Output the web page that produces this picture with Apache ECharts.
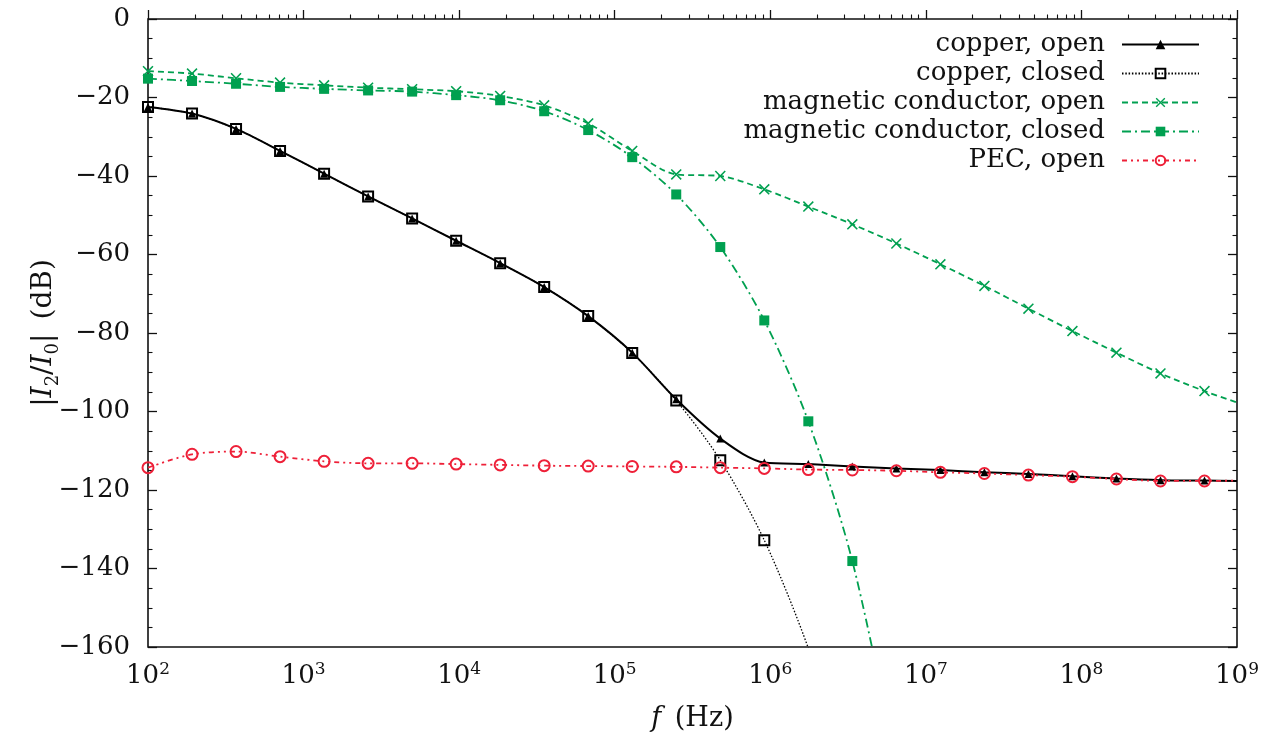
<!DOCTYPE html>
<html>
<head>
<meta charset="utf-8">
<title>|I2/I0| vs f</title>
<script src="https://cdn.jsdelivr.net/npm/echarts@6/dist/echarts.min.js"></script>
<style>
  html, body { margin: 0; padding: 0; background: #fff; }
  #chart { width: 1273px; height: 740px; }
</style>
</head>
<body>
<div id="chart"></div>
<script>
// frequencies (Hz) where the markers sit
var freq = [100, 191.9, 368.1, 706.1, 1355, 2599, 4986, 9566, 18350, 35210,
  67550, 129600, 248600, 477000, 915100, 1756000, 3368000, 6462000,
  12400000, 23780000, 45630000, 87540000, 167900000, 322200000, 618100000];
var fEnd = 1e9;

var copperOpen = [-22.4, -24.1, -28.0, -33.6, -39.4, -45.2, -50.8, -56.5, -62.2, -68.3,
  -75.7, -85.0, -96.9, -106.9, -113.0, -113.4, -114.0, -114.5, -114.9, -115.5,
  -115.9, -116.5, -117.1, -117.5, -117.6];
var copperOpenEnd = -117.7;

var copperClosed = [-22.4, -24.1, -28.0, -33.6, -39.4, -45.2, -50.8, -56.5, -62.2, -68.3,
  -75.7, -85.1, -97.2, -112.4, -132.8, -160.3, -195];

var magOpen = [-13.3, -13.9, -15.1, -16.2, -16.9, -17.5, -17.9, -18.4, -19.6, -22.0,
  -26.6, -33.6, -39.6, -40.0, -43.4, -47.8, -52.3, -57.2, -62.5, -68.0,
  -73.8, -79.5, -85.0, -90.3, -94.8];
var magOpenEnd = -97.7;

var magClosed = [-15.2, -15.8, -16.5, -17.3, -17.8, -18.2, -18.5, -19.4, -20.7, -23.5,
  -28.3, -35.2, -44.7, -58.1, -76.8, -102.5, -138.1, -190];

var pecOpen = [-114.3, -110.9, -110.2, -111.5, -112.7, -113.2, -113.2, -113.4, -113.6, -113.8,
  -113.9, -114.0, -114.1, -114.3, -114.5, -114.8, -114.9, -115.1, -115.5, -115.8,
  -116.2, -116.6, -117.2, -117.7, -117.7];
var pecOpenEnd = -117.6;

var names = ['copper, open', 'copper, closed', 'magnetic conductor, open',
  'magnetic conductor, closed', 'PEC, open'];

var decadeTicks = [1e2, 1e3, 1e4, 1e5, 1e6, 1e7, 1e8, 1e9];
var minorTicks = [];
decadeTicks.slice(0, 7).forEach(function(d) {
  for (var k = 2; k <= 9; k++) minorTicks.push(d * k);
});

var GREEN = '#00a050';
var RED = '#ee2038';
var NONE = 'rgba(255,255,255,0)';
var FONT = 'DejaVu Serif';
var crossIcon = 'path://M1,0L5,4L9,0L10,1L6,5L10,9L9,10L5,6L1,10L0,9L4,5L0,1Z';

function pts(vals, endVal) {
  var d = vals.map(function(v, i) { return [freq[i], v]; });
  if (endVal != null) d.push({ value: [fEnd, endVal], symbol: 'none' });
  return d;
}

function lineSeries(name, data, color, width, type, symbol, size, fill) {
  return {
    name: name,
    type: 'line',
    data: data,
    smooth: 0.3,
    symbol: symbol,
    symbolSize: size,
    showAllSymbol: true,
    clip: true,
    lineStyle: { color: color, width: width, type: type },
    itemStyle: { color: fill, borderColor: color, borderWidth: fill === color ? 0 : 2 }
  };
}

var chart = echarts.init(document.getElementById('chart'));

chart.setOption({
  animation: false,
  grid: {
    left: 148, right: 36, top: 19, bottom: 93,
    show: true, borderColor: '#111', borderWidth: 1.6, backgroundColor: 'transparent'
  },
  legend: {
    orient: 'vertical',
    right: 68,
    top: 25,
    align: 'right',
    itemWidth: 77,
    itemHeight: 12,
    itemGap: 0,
    data: names,
    textStyle: {
      fontFamily: FONT, fontSize: 26, color: '#111', lineHeight: 29,
      padding: [0, 12, 0, 0]
    }
  },
  xAxis: [{
    type: 'log',
    min: 1e2,
    max: 1e9,
    logBase: 10,
    name: '{i|f}{n|\u2002(Hz)}',
    nameLocation: 'middle',
    nameGap: 58,
    nameMoveOverlap: false,
    nameTextStyle: {
      rich: {
        i: { fontFamily: FONT, fontStyle: 'italic', fontSize: 27, color: '#111' },
        n: { fontFamily: FONT, fontSize: 27, color: '#111' }
      }
    },
    axisLine: { show: false },
    splitLine: { show: false },
    axisTick: { inside: true, length: 9, lineStyle: { color: '#111', width: 1.3 } },
    axisLabel: {
      margin: 14,
      formatter: function(v) {
        return '{b|10}{s|' + Math.round(Math.log10(v)) + '}';
      },
      rich: {
        b: { fontFamily: FONT, fontSize: 26, color: '#111', lineHeight: 30 },
        s: { fontFamily: FONT, fontSize: 17, color: '#111', verticalAlign: 'top', lineHeight: 18 }
      }
    }
  }, {
    type: 'log',
    min: 1e2,
    max: 1e9,
    logBase: 10,
    position: 'bottom',
    axisLine: { show: false },
    splitLine: { show: false },
    axisLabel: { show: false },
    axisTick: {
      inside: true, length: 4.5, customValues: minorTicks,
      lineStyle: { color: '#111', width: 1.1 }
    }
  }],
  yAxis: [{
    type: 'value',
    min: -160,
    max: 0,
    interval: 20,
    name: '{n||}{i|I}{sub|2}{n|/}{i|I}{sub|0}{n||\u2002(dB)}',
    nameLocation: 'middle',
    nameRotate: 90,
    nameGap: 86,
    nameMoveOverlap: false,
    nameTextStyle: {
      rich: {
        n: { fontFamily: FONT, fontSize: 28, color: '#111' },
        i: { fontFamily: FONT, fontStyle: 'italic', fontSize: 28, color: '#111' },
        sub: { fontFamily: FONT, fontSize: 18, color: '#111', verticalAlign: 'bottom', lineHeight: 36 }
      }
    },
    axisLine: { show: false },
    splitLine: { show: false },
    axisTick: { inside: true, length: 9, lineStyle: { color: '#111', width: 1.3 } },
    minorTick: { show: true, splitNumber: 4, length: 4.5, lineStyle: { color: '#111', width: 1.1 } },
    axisLabel: {
      margin: 18,
      fontFamily: FONT,
      fontSize: 26,
      color: '#111',
      formatter: function(v) { return String(v).replace('-', '\u2212'); }
    }
  }, {
    type: 'value',
    min: -160,
    max: 0,
    interval: 20,
    position: 'right',
    axisLine: { show: false },
    splitLine: { show: false },
    axisLabel: { show: false },
    axisTick: { inside: true, length: 9, lineStyle: { color: '#111', width: 1.3 } },
    minorTick: { show: true, splitNumber: 4, length: 4.5, lineStyle: { color: '#111', width: 1.1 } }
  }],
  series: [
    lineSeries(names[0], pts(copperOpen, copperOpenEnd), '#000', 2, 'solid', 'triangle', 8, '#000'),
    lineSeries(names[1], pts(copperClosed), '#000', 1.3, [1.5, 1.8], 'rect', 10, NONE),
    lineSeries(names[2], pts(magOpen, magOpenEnd), GREEN, 1.8, [6, 4], crossIcon, 11, GREEN),
    lineSeries(names[3], pts(magClosed), GREEN, 1.8, [9, 4, 2, 4], 'rect', 10, GREEN),
    lineSeries(names[4], pts(pecOpen, pecOpenEnd), RED, 1.8, [5, 4, 2, 4, 2, 4], 'circle', 11, NONE)
  ]
});
</script>
</body>
</html>
